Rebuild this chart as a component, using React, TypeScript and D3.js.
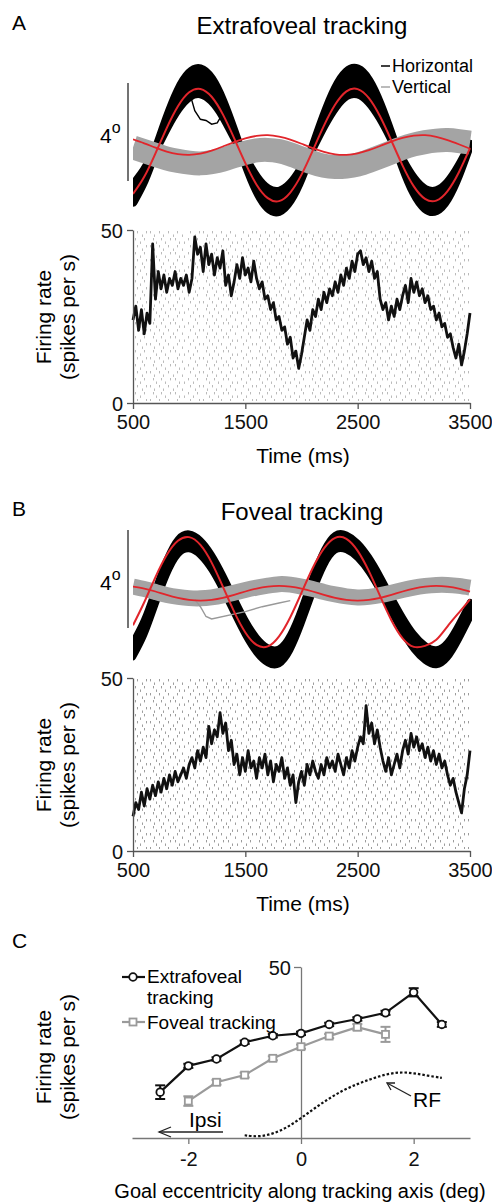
import { useEffect, useRef } from "react";
import * as d3 from "d3";

// eye position samples, ms
const eyeTimes = [500, 600, 700, 800, 900, 1000, 1100, 1200, 1300, 1400, 1500, 1600, 1700, 1800, 1900, 2000,
  2100, 2200, 2300, 2400, 2500, 2600, 2700, 2800, 2900, 3000, 3100, 3200, 3300, 3400, 3500];

// A - extrafoveal tracking (deg)
const targetHorizA = [-2.0, -1.3, -0.34, 0.69, 1.58, 2.15, 2.29, 1.97, 1.25, 0.28, -0.74, -1.62, -2.17, -2.29, -1.94, -1.21,
  -0.23, 0.79, 1.65, 2.19, 2.28, 1.91, 1.16, 0.18, -0.84, -1.69, -2.2, -2.27, -1.88, -1.12, -0.13];
const targetVertA = [0.23, 0.07, -0.11, -0.27, -0.37, -0.4, -0.35, -0.23, -0.06, 0.12, 0.27, 0.37, 0.4, 0.34, 0.22, 0.05,
  -0.13, -0.28, -0.38, -0.4, -0.34, -0.21, -0.04, 0.14, 0.29, 0.38, 0.4, 0.33, 0.2, 0.03, -0.15];
const eyeHorizUpperA = [-2.34, -1.45, -0.23, 1.08, 2.21, 2.93, 3.11, 2.7, 1.79, 0.56, -0.74, -1.86, -2.56, -2.71, -2.26, -1.34,
  -0.09, 1.2, 2.3, 2.98, 3.1, 2.63, 1.67, 0.43, -0.87, -1.95, -2.59, -2.68, -2.19, -1.22, 0.03];
const eyeHorizLowerA = [-1.64, -1.03, -0.2, 0.7, 1.47, 1.97, 2.09, 1.81, 1.19, 0.34, -0.54, -1.31, -1.79, -1.89, -1.59, -0.95,
  -0.1, 0.79, 1.54, 2.01, 2.08, 1.76, 1.11, 0.26, -0.63, -1.37, -1.81, -1.87, -1.54, -0.87, -0.01];
const eyeVertA = [-0.1, -0.25, -0.4, -0.55, -0.65, -0.72, -0.75, -0.7, -0.6, -0.45, -0.32, -0.22, -0.2, -0.25, -0.38, -0.55,
  -0.72, -0.85, -0.9, -0.88, -0.8, -0.65, -0.48, -0.3, -0.12, 0.02, 0.12, 0.18, 0.2, 0.16, 0.1];
// one trial that breaks off near the first peak
const strayTimesA = [1000, 1050, 1100, 1150, 1200, 1250, 1300];
const strayHorizA = [2.2, 1.4, 1.05, 1.0, 0.85, 0.9, 1.3];

// B - foveal tracking (deg)
const targetHorizB = [-1.36, -0.42, 0.61, 1.51, 2.09, 2.24, 1.92, 1.2, 0.22, -0.8, -1.65, -2.16, -2.22, -1.81, -1.03, -0.03,
  0.98, 1.78, 2.21, 2.17, 1.68, 0.85, -0.17, -1.15, -1.89, -2.24, -2.2, -1.95, -1.4, -0.85, -0.3];
const targetVertB = [0.22, 0.14, 0.02, -0.12, -0.24, -0.32, -0.35, -0.32, -0.24, -0.12, 0.02, 0.14, 0.22, 0.25, 0.22, 0.14,
  0.02, -0.12, -0.24, -0.32, -0.35, -0.32, -0.24, -0.12, 0.02, 0.14, 0.22, 0.25, 0.22, 0.14, 0.02];
const eyeHorizUpperB = [-2.02, -1.11, 0.13, 1.34, 2.17, 2.39, 2.13, 1.54, 0.71, -0.23, -1.13, -1.84, -2.26, -2.3, -1.73, -0.65,
  0.62, 1.72, 2.34, 2.35, 2.02, 1.44, 0.67, -0.19, -1.01, -1.7, -2.16, -2.34, -2.04, -1.3, -0.4];
const eyeHorizLowerB = [-2.67, -1.76, -0.52, 0.69, 1.52, 1.74, 1.48, 0.89, 0.06, -0.88, -1.78, -2.49, -2.91, -2.95, -2.38, -1.3,
  -0.03, 1.07, 1.69, 1.7, 1.37, 0.79, 0.02, -0.84, -1.66, -2.35, -2.81, -2.99, -2.69, -1.95, -1.05];
const eyeVertB = [0.22, 0.12, 0.0, -0.12, -0.2, -0.25, -0.26, -0.22, -0.14, -0.03, 0.08, 0.18, 0.26, 0.32, 0.3, 0.22,
  0.12, 0.0, -0.1, -0.18, -0.22, -0.2, -0.13, -0.03, 0.08, 0.18, 0.25, 0.29, 0.29, 0.25, 0.18];
// one vertical trial that drops away
const strayTimesB = [1050, 1100, 1150, 1200, 1500, 1650, 1800, 1900];
const strayVertB = [-0.3, -0.6, -1.0, -1.1, -0.8, -0.6, -0.45, -0.35];

// firing rate (spikes per s), 25 ms bins starting at 500 ms
const rateA = [24, 28, 21, 27, 20, 26, 23, 46,
  30, 38, 33, 37, 32, 36, 34, 38, 33, 36, 34, 37, 32, 36,
  48,
  43, 45, 38, 46, 40, 43, 37, 42, 39, 44,
  34, 37, 31, 35,
  40, 36, 42, 37, 39, 35, 41, 36,
  33, 35, 30, 31, 27, 29, 24, 25, 21, 22, 17, 19, 13, 15,
  10, 14,
  19, 24, 21, 27, 25, 30, 27, 32, 29, 33, 31,
  35, 32, 37, 34, 39, 36, 41, 38, 43,
  44, 40, 42, 38, 41, 36, 38,
  30, 27, 29, 24, 28, 25, 30, 27,
  31, 34, 29, 36, 32, 35, 31,
  33, 29, 31, 27, 28, 24, 26, 22, 23, 19, 20, 16,
  13, 17, 11, 15, 20, 26];
const rateB = [10, 14, 12, 17, 13, 18, 15, 19, 16,
  20, 17, 21, 18, 22, 19, 23, 20, 22, 24, 21, 25,
  27, 24, 29, 26, 30, 27,
  36,
  31, 35, 33,
  40,
  34, 37, 29, 32,
  25, 28, 22, 27, 23, 29, 24, 26, 21, 27, 24, 28, 22, 26, 20, 25, 23, 27, 21, 24, 19, 22,
  14,
  20, 23, 19, 25, 22, 26, 23, 21, 25, 22, 27, 24, 26, 23, 28, 25, 22, 27, 24, 29, 26,
  30, 33, 31,
  42,
  34, 37, 31, 35, 30,
  26, 23, 27, 22, 25, 28, 24,
  29, 32, 28, 34, 30, 33, 29,
  31, 27, 30, 26, 29, 25, 28, 24, 26,
  22, 19, 21, 17, 14, 11,
  18, 22, 29];
const rateBinStart = 500;
const rateBinWidth = 25;

const timeTicks = [500, 1500, 2500, 3500];
const rateTicks = [0, 50];

// C - tuning along tracking axis
const extraEcc = [-2.5, -2, -1.5, -1, -0.5, 0, 0.5, 1, 1.5, 2, 2.5];
const extraRate = [13.4, 21.1, 23.1, 28.0, 29.9, 30.6, 33.2, 34.8, 36.6, 42.6, 33.2];
const extraErr = [2.0, 0.6, 0.5, 0.5, 0.5, 0.5, 0.5, 0.5, 0.6, 1.2, 0.7];
const fovEcc = [-2, -1.5, -1, -0.5, 0, 0.5, 1, 1.5];
const fovRate = [10.8, 16.3, 18.4, 23.3, 26.7, 29.8, 32.4, 30.3];
const fovErr = [1.4, 0.7, 0.7, 0.6, 0.6, 0.6, 0.9, 2.2];
const rfEcc = [-1.0, -0.75, -0.5, -0.25, 0, 0.25, 0.5, 0.75, 1.0, 1.25, 1.5, 1.75, 2.0, 2.25, 2.5];
const rfRate = [0.8, 0.3, 1.2, 3.0, 5.8, 8.8, 11.6, 14.0, 15.8, 17.3, 18.6, 19.3, 19.0, 18.2, 17.6];
const eccTicks = [-2, 0, 2];

const FONT = "'Liberation Sans', Arial, Helvetica, sans-serif";
const RED = "#e1252b";
const GRAY = "#a4a4a4";

export default function App() {
  const ref = useRef<SVGSVGElement>(null);

  useEffect(() => {
    const svg = d3.select(ref.current);
    svg.selectAll("*").remove();
    svg.attr("font-family", FONT);

    const defs = svg.append("defs");

    // raster texture (spike ticks behind the rate traces)
    const addRaster = (id: string, color: string) => {
      const p = defs.append("pattern").attr("id", id).attr("patternUnits", "userSpaceOnUse")
        .attr("width", 53).attr("height", 14);
      const marks = [[2, 0], [11, 0], [16, 0], [29, 0], [38, 0], [47, 0],
        [6, 3.5], [20, 3.5], [25, 3.5], [34, 3.5], [50, 3.5],
        [0, 7], [9, 7], [18, 7], [31, 7], [40, 7], [44, 7],
        [4, 10.5], [14, 10.5], [23, 10.5], [36, 10.5], [48, 10.5]];
      marks.forEach(([mx, my]) => {
        p.append("rect").attr("x", mx).attr("y", my).attr("width", 1).attr("height", 2.4).attr("fill", color);
      });
    };
    addRaster("rasterA", "#bababa");
    addRaster("rasterB", "#9c9c9c");

    const x = d3.scaleLinear().domain([500, 3500]).range([133, 470]);
    const rateTimes = d3.range(rateA.length).map((i) => rateBinStart + i * rateBinWidth);

    const drawPanel = (opts: {
      label: string; title: string; top: number; eyeCenter: number; barTop: number;
      targetH: number[]; targetV: number[]; upper: number[]; lower: number[]; vert: number[];
      rate: number[]; raster: string; rateTop: number; bandStroke: number; grayWidth: number;
      strayT: number[]; strayV: number[]; strayColor: string;
    }) => {
      const { top } = opts;
      const g = svg.append("g");

      g.append("text").attr("x", 12).attr("y", top + 30).attr("font-size", 21).text(opts.label);
      g.append("text").attr("x", 302).attr("y", top + 34).attr("font-size", 24).attr("text-anchor", "middle")
        .text(opts.title);

      // eye position traces
      const y = d3.scaleLinear().domain([-2, 2]).range([opts.eyeCenter + 49, opts.eyeCenter - 49]);
      const clipId = "clip" + opts.label;
      defs.append("clipPath").attr("id", clipId).append("rect")
        .attr("x", 133).attr("y", top + 40).attr("width", 339).attr("height", 200);
      const traces = g.append("g").attr("clip-path", `url(#${clipId})`);

      const band = d3.area<number>()
        .x((d, i) => x(eyeTimes[i]))
        .y0((d, i) => y(opts.lower[i]))
        .y1((d, i) => y(opts.upper[i]))
        .curve(d3.curveNatural);
      traces.append("path").datum(opts.upper).attr("d", band)
        .attr("fill", "#000").attr("stroke", "#000").attr("stroke-width", opts.bandStroke)
        .attr("stroke-linejoin", "round");

      const eyeLine = d3.line<number>().x((d, i) => x(eyeTimes[i])).y((d) => y(d)).curve(d3.curveNatural);
      traces.append("path").datum(opts.vert).attr("d", eyeLine)
        .attr("fill", "none").attr("stroke", GRAY).attr("stroke-width", opts.grayWidth);
      traces.append("path").datum(opts.strayV)
        .attr("d", d3.line<number>().x((d, i) => x(opts.strayT[i])).y((d) => y(d)))
        .attr("fill", "none").attr("stroke", opts.strayColor).attr("stroke-width", 1.4);
      traces.append("path").datum(opts.targetV).attr("d", eyeLine)
        .attr("fill", "none").attr("stroke", RED).attr("stroke-width", 1.8);
      traces.append("path").datum(opts.targetH).attr("d", eyeLine)
        .attr("fill", "none").attr("stroke", RED).attr("stroke-width", 2);

      // 4 deg scale bar
      const barLen = y(0) - y(4);
      g.append("line").attr("x1", 128).attr("x2", 128).attr("y1", opts.barTop).attr("y2", opts.barTop + barLen)
        .attr("stroke", "#444").attr("stroke-width", 1.5);
      const deg = g.append("text").attr("x", 100).attr("y", opts.barTop + barLen / 2 + 11).attr("font-size", 21);
      deg.append("tspan").text("4");
      deg.append("tspan").attr("font-size", 16).attr("dy", -10).text("o");

      // firing rate
      const ry = d3.scaleLinear().domain([0, 50]).range([opts.rateTop + 173, opts.rateTop]);
      g.append("rect").attr("x", 135).attr("y", opts.rateTop + 1).attr("width", 336).attr("height", 170)
        .attr("fill", `url(#${opts.raster})`);
      g.append("path").datum(opts.rate)
        .attr("d", d3.line<number>().x((d, i) => x(rateTimes[i])).y((d) => ry(d)))
        .attr("fill", "none").attr("stroke", "#111").attr("stroke-width", 2.8).attr("stroke-linejoin", "round");

      const ax = g.append("g").attr("transform", `translate(0,${ry(0)})`)
        .call(d3.axisBottom(x).tickValues(timeTicks).tickSizeInner(6).tickSizeOuter(0).tickPadding(6)
          .tickFormat((d) => String(d)));
      const ay = g.append("g").attr("transform", `translate(133,0)`)
        .call(d3.axisLeft(ry).tickValues(rateTicks).tickSizeInner(6).tickSizeOuter(0).tickPadding(4));
      [ax, ay].forEach((a) => {
        a.selectAll("path,line").attr("stroke", "#555").attr("stroke-width", 1.3);
        a.selectAll("text").attr("font-size", 20).attr("font-family", FONT).attr("fill", "#111");
      });
      ay.selectAll("text").attr("dy", "0.36em");

      g.append("text").attr("x", 303).attr("y", ry(0) + 60).attr("font-size", 21).attr("text-anchor", "middle")
        .text("Time (ms)");
      const cy = opts.rateTop + 87;
      g.append("text").attr("transform", `translate(44,${cy}) rotate(-90)`).attr("dy", "0.35em")
        .attr("font-size", 21).attr("text-anchor", "middle").text("Firing rate");
      g.append("text").attr("transform", `translate(68,${cy}) rotate(-90)`).attr("dy", "0.35em")
        .attr("font-size", 21).attr("text-anchor", "middle").text("(spikes per s)");
    };

    drawPanel({
      label: "A", title: "Extrafoveal tracking", top: 0, eyeCenter: 145, barTop: 83,
      targetH: targetHorizA, targetV: targetVertA, upper: eyeHorizUpperA, lower: eyeHorizLowerA, vert: eyeVertA,
      rate: rateA, raster: "rasterA", rateTop: 230, bandStroke: 9, grayWidth: 24,
      strayT: strayTimesA, strayV: strayHorizA, strayColor: "#000",
    });
    drawPanel({
      label: "B", title: "Foveal tracking", top: 486, eyeCenter: 592, barTop: 530,
      targetH: targetHorizB, targetV: targetVertB, upper: eyeHorizUpperB, lower: eyeHorizLowerB, vert: eyeVertB,
      rate: rateB, raster: "rasterB", rateTop: 678, bandStroke: 6, grayWidth: 16,
      strayT: strayTimesB, strayV: strayVertB, strayColor: "#999",
    });

    // legend A
    const leg = svg.append("g").attr("font-size", 18);
    leg.append("line").attr("x1", 381).attr("x2", 390).attr("y1", 66).attr("y2", 66).attr("stroke", "#000").attr("stroke-width", 1.5);
    leg.append("text").attr("x", 392).attr("y", 72).text("Horizontal");
    leg.append("line").attr("x1", 381).attr("x2", 390).attr("y1", 87).attr("y2", 87).attr("stroke", GRAY).attr("stroke-width", 1.5);
    leg.append("text").attr("x", 392).attr("y", 93).text("Vertical");

    // C
    const c = svg.append("g");
    c.append("text").attr("x", 12).attr("y", 948).attr("font-size", 21).text("C");
    const cx = d3.scaleLinear().domain([-3, 3]).range([132, 470]);
    const cyS = d3.scaleLinear().domain([0, 50]).range([1138, 967]);

    const cax = c.append("g").attr("transform", `translate(0,${cyS(0)})`)
      .call(d3.axisBottom(cx).tickValues(eccTicks).tickSizeInner(6).tickSizeOuter(0).tickPadding(8)
        .tickFormat((d) => String(d)));
    const cay = c.append("g").attr("transform", `translate(${cx(0)},0)`)
      .call(d3.axisLeft(cyS).tickValues([50]).tickSizeInner(7).tickSizeOuter(0).tickPadding(3));
    [cax, cay].forEach((a) => {
      a.selectAll("path,line").attr("stroke", "#777").attr("stroke-width", 1.3);
      a.selectAll("text").attr("font-size", 20).attr("font-family", FONT).attr("fill", "#111");
    });
    cay.selectAll("text").attr("dy", "0.36em");

    c.append("text").attr("x", 300).attr("y", 1198).attr("font-size", 20).attr("text-anchor", "middle")
      .text("Goal eccentricity along tracking axis (deg)");
    c.append("text").attr("transform", `translate(44,1057) rotate(-90)`).attr("dy", "0.35em")
      .attr("font-size", 21).attr("text-anchor", "middle").text("Firing rate");
    c.append("text").attr("transform", `translate(68,1057) rotate(-90)`).attr("dy", "0.35em")
      .attr("font-size", 21).attr("text-anchor", "middle").text("(spikes per s)");

    // RF curve
    c.append("path").datum(rfRate)
      .attr("d", d3.line<number>().x((d, i) => cx(rfEcc[i])).y((d) => cyS(d)).curve(d3.curveBasis))
      .attr("fill", "none").attr("stroke", "#111").attr("stroke-width", 2.2).attr("stroke-dasharray", "2.5,2");

    const series = (ecc: number[], rate: number[], err: number[], color: string, square: boolean) => {
      const sg = c.append("g");
      sg.append("path").datum(rate)
        .attr("d", d3.line<number>().x((d, i) => cx(ecc[i])).y((d) => cyS(d)))
        .attr("fill", "none").attr("stroke", color).attr("stroke-width", 2.2);
      rate.forEach((r, i) => {
        const px = cx(ecc[i]);
        const e = err[i];
        sg.append("line").attr("x1", px).attr("x2", px).attr("y1", cyS(r - e)).attr("y2", cyS(r + e))
          .attr("stroke", color).attr("stroke-width", 2);
        [r - e, r + e].forEach((v) => {
          sg.append("line").attr("x1", px - 5).attr("x2", px + 5).attr("y1", cyS(v)).attr("y2", cyS(v))
            .attr("stroke", color).attr("stroke-width", 2);
        });
        if (square) {
          sg.append("rect").attr("x", px - 3.5).attr("y", cyS(r) - 3.5).attr("width", 7).attr("height", 7)
            .attr("fill", "#fff").attr("stroke", color).attr("stroke-width", 1.8);
        } else {
          sg.append("circle").attr("cx", px).attr("cy", cyS(r)).attr("r", 3.8)
            .attr("fill", "#fff").attr("stroke", color).attr("stroke-width", 1.8);
        }
      });
    };
    series(fovEcc, fovRate, fovErr, "#9a9a9a", true);
    series(extraEcc, extraRate, extraErr, "#111", false);

    // legend C
    const lc = c.append("g").attr("font-size", 19);
    lc.append("line").attr("x1", 122).attr("x2", 145).attr("y1", 977).attr("y2", 977).attr("stroke", "#111").attr("stroke-width", 2.2);
    lc.append("circle").attr("cx", 133).attr("cy", 977).attr("r", 3.8).attr("fill", "#fff").attr("stroke", "#111").attr("stroke-width", 1.8);
    lc.append("text").attr("x", 147).attr("y", 983).text("Extrafoveal");
    lc.append("text").attr("x", 147).attr("y", 1004).text("tracking");
    lc.append("line").attr("x1", 122).attr("x2", 145).attr("y1", 1022).attr("y2", 1022).attr("stroke", "#9a9a9a").attr("stroke-width", 2.2);
    lc.append("rect").attr("x", 129.5).attr("y", 1018.5).attr("width", 7).attr("height", 7).attr("fill", "#fff").attr("stroke", "#9a9a9a").attr("stroke-width", 1.8);
    lc.append("text").attr("x", 147).attr("y", 1029).text("Foveal tracking");

    // annotations
    const ann = c.append("g").attr("stroke", "#222").attr("stroke-width", 1.3).attr("fill", "none");
    ann.append("line").attr("x1", 411).attr("y1", 1096).attr("x2", 387).attr("y2", 1083);
    ann.append("polyline").attr("points", "395,1083 387,1083 391,1090");
    c.append("text").attr("x", 413).attr("y", 1107).attr("font-size", 21).text("RF");
    ann.append("line").attr("x1", 223).attr("y1", 1132).attr("x2", 159).attr("y2", 1132);
    ann.append("polyline").attr("points", "171,1127 159,1132 171,1137");
    c.append("text").attr("x", 189).attr("y", 1127).attr("font-size", 21).text("Ipsi");
  }, []);

  return (
    <svg ref={ref} width={492} height={1204}
      style={{ position: "absolute", left: 0, top: 0, background: "#fff", display: "block" }} />
  );
}
